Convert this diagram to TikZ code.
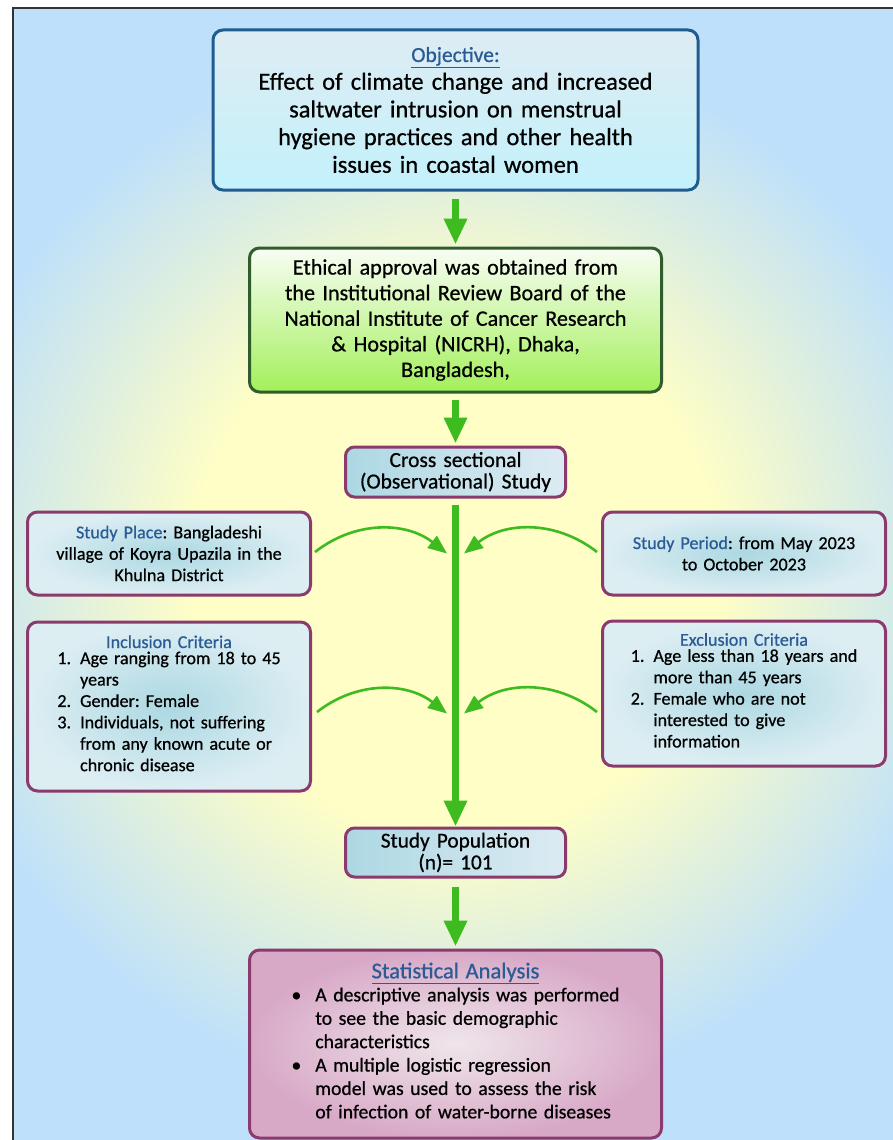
\documentclass[tikz,border=0pt]{standalone}
\usepackage{fontspec}
\setmainfont{Carlito}[FakeBold=0.7]
\usepackage{xcolor}
\definecolor{cObj}{HTML}{1F5C8F}
\definecolor{cObjTop}{HTML}{DEECF3}
\definecolor{cObjBot}{HTML}{C3F1FB}
\definecolor{cEth}{HTML}{2F5E2C}
\definecolor{cEthTop}{HTML}{F8FDF4}
\definecolor{cEthBot}{HTML}{A3F05A}
\definecolor{cPurple}{HTML}{8B3A6E}
\definecolor{cStepL}{HTML}{ACD8E3}
\definecolor{cStepR}{HTML}{DDEBF3}
\definecolor{cSideIn}{HTML}{ACD8E2}
\definecolor{cSideOut}{HTML}{DDEEF3}
\definecolor{cStatIn}{HTML}{EFE6EB}
\definecolor{cStatOut}{HTML}{D8A9C7}
\definecolor{cTitle}{HTML}{2B5B94}
\definecolor{cGreen}{HTML}{3DBB1F}
\definecolor{cBgIn}{HTML}{FEFEC6}
\definecolor{cBgOut}{HTML}{BEE0FA}
\usepackage{tikz}
\usetikzlibrary{positioning,arrows.meta,calc}
\pgfdeclareradialshading{bg-glow}{\pgfpoint{0bp}{0bp}}{%
  color(0bp)=(cBgIn); color(11bp)=(cBgIn); color(22bp)=(cBgOut); color(50bp)=(cBgOut)}
\tikzset{
  box-base/.style={line width=3pt,align=center,inner xsep=6pt,inner ysep=4pt},
  box-obj/.style={box-base,draw=cObj,rounded corners=10pt,
    top color=cObjTop,bottom color=cObjBot,
    text width=473pt,minimum height=160pt,font=\fontsize{24.5}{27.7}\selectfont},
  box-eth/.style={box-base,draw=cEth,rounded corners=10pt,
    top color=cEthTop,bottom color=cEthBot,
    text width=400pt,minimum height=144pt,font=\fontsize{22.1}{25.6}\selectfont},
  box-step/.style={box-base,draw=cPurple,rounded corners=9pt,
    left color=cStepL,right color=cStepR,
    text width=208pt,minimum height=50pt},
  box-side/.style={box-base,draw=cPurple,rounded corners=10pt,
    inner color=cSideIn,outer color=cSideOut,
    text width=271pt,font=\fontsize{18.1}{21.4}\selectfont},
  box-stat/.style={box-base,draw=cPurple,rounded corners=10pt,
    inner color=cStatIn,outer color=cStatOut,
    text width=400pt,minimum height=188pt,font=\fontsize{19.7}{23.4}\selectfont},
  arrow-main/.style={-{Triangle[length=26pt,width=22pt]},line width=7.5pt,draw=cGreen},
  arrow-feed/.style={-{Triangle[length=19pt,width=15pt]},line width=2.6pt,draw=cGreen},
}
\frenchspacing

\begin{document}
\begin{tikzpicture}[x=1pt,y=-1pt]
  \useasboundingbox (0,0) rectangle (893,1140);
  \begin{scope}
    \clip (13,8) rectangle (893,1140);
    \shade[shading=bg-glow] (-145,-30) rectangle (1055,1170);
  \end{scope}
  \draw[line width=1.3pt,black!80] (13,1142) -- (13,8) -- (895,8);

  \node[box-obj] (obj) at (455.5,110) {\textcolor{cTitle}{\fontsize{21.5}{27.7}\selectfont\underline{Objective:}}\\
    Effect of climate change and increased\\ saltwater intrusion on menstrual\\
    hygiene practices and other health\\ issues in coastal women};
  \node[box-eth,below=55pt of obj] (eth) {Ethical approval was obtained from\\
    the Institutional Review Board of the\\ National Institute of Cancer Research\\
    \& Hospital (NICRH), Dhaka,\\ Bangladesh,};
  \node[box-step,font=\fontsize{21.5}{21.5}\selectfont,below=52pt of eth] (cross)
    {Cross sectional\\ (Observational) Study};

  % side boxes hanging off the study design
  \node[box-side,minimum height=83pt,below left=12pt and 32pt of cross] (place)
    {\textcolor{cTitle}{Study Place}: Bangladeshi\\ village of Koyra Upazila in the\\ Khulna District};
  \node[box-side,minimum height=83pt,below right=12pt and 34pt of cross] (period)
    {\textcolor{cTitle}{Study Period}: from May 2023\\ to October 2023};
  \node[box-side,minimum height=169pt,below=24pt of place] (incl)
    {\textcolor{cTitle}{Inclusion Criteria}\\
     \begin{tabular}{@{}l@{\hspace{9pt}}l@{}}
       1. & Age ranging from 18 to 45\\ & years\\
       2. & Gender: Female\\
       3. & Individuals, not suffering\\ & from any known acute or\\ & chronic disease
     \end{tabular}};
  \node[box-side,minimum height=145pt,below=23pt of period] (excl)
    {\textcolor{cTitle}{Exclusion Criteria}\\
     \begin{tabular}{@{}l@{\hspace{9pt}}l@{}}
       1. & Age less than 18 years and\\ & more than 45 years\\
       2. & Female who are not\\ & interested to give\\ & information
     \end{tabular}};

  \node[box-step,font=\fontsize{21.3}{21.7}\selectfont,minimum height=49pt,below=328pt of cross] (pop)
    {Study Population\\ (n)= 101};
  \node[box-stat,below=70pt of pop] (stat)
    {\textcolor{cTitle}{\fontsize{22.6}{24}\selectfont\underline{Statistical Analysis}}\\
     \begin{tabular}{@{}c@{\hspace{14pt}}l@{}}
       \textbullet & A descriptive analysis was performed\\
                   & to see the basic demographic\\
                   & characteristics\\
       \textbullet & A multiple logistic regression\\
                   & model was used to assess the risk\\
                   & of infection of water-borne diseases
     \end{tabular}};

  \draw[arrow-main,shorten <=7pt,shorten >=2pt] (obj) -- (eth);
  \draw[arrow-main,shorten <=6pt,shorten >=2pt] (eth) -- (cross);
  \draw[arrow-main,shorten <=6pt] (cross) -- (pop);
  \draw[arrow-main,shorten <=8pt,shorten >=2pt] (pop) -- (stat);

  % feeders into the main line
  \coordinate (hit-pl) at ([xshift=-8.5pt,yshift=-55pt]cross.south);
  \coordinate (hit-pr) at ([xshift=8.5pt,yshift=-55pt]cross.south);
  \coordinate (hit-il) at ([xshift=-8.5pt,yshift=-215pt]cross.south);
  \coordinate (hit-ir) at ([xshift=8.5pt,yshift=-215pt]cross.south);
  \draw[arrow-feed] ([xshift=3pt,yshift=1.5pt]place.east) to[out=38,in=142] (hit-pl);
  \draw[arrow-feed] ([xshift=-4pt,yshift=1.5pt]period.west) to[out=142,in=38] (hit-pr);
  \draw[arrow-feed] ([xshift=5pt,yshift=-5.5pt]incl.east) to[out=38,in=142] (hit-il);
  \draw[arrow-feed] ([xshift=-4pt,yshift=-18.5pt]excl.west) to[out=142,in=38] (hit-ir);
\end{tikzpicture}
\end{document}
